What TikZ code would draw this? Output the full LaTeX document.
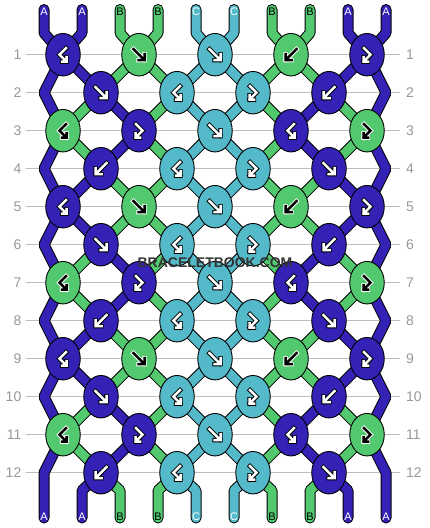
\documentclass[tikz,border=0pt]{standalone}
\usepackage{fontspec}
\setmainfont{Liberation Sans}
\usetikzlibrary{shapes.geometric}
\definecolor{cA}{HTML}{3421B5}
\definecolor{cB}{HTML}{52C96F}
\definecolor{cC}{HTML}{54B9C9}
\definecolor{gridc}{HTML}{BEBEBE}
\definecolor{labc}{HTML}{999999}
\definecolor{wmc}{HTML}{333333}
\pgfdeclarelayer{gridlayer}
\pgfdeclarelayer{strandout}
\pgfdeclarelayer{strandfill}
\pgfdeclarelayer{toplayer}
\pgfsetlayers{gridlayer,strandout,strandfill,main,toplayer}
\tikzset{
  knotnode/.style={ellipse,draw=black,line width=0.9pt,minimum width=34.5pt,minimum height=42.5pt,inner sep=0pt},
  sout/.style={draw=black,line width=11pt,line join=bevel},
  sfill/.style={line width=9pt,line join=bevel},
  lab/.style={text=labc,font=\fontsize{14}{14}\selectfont,inner sep=0pt},
  endlab/.style={font=\fontsize{11}{11}\selectfont,inner sep=0pt},
  wm/.style={font=\bfseries\fontsize{14}{14}\selectfont,inner sep=1pt},
  arw/.style={line cap=rect,line join=miter},
  pics/aF/.style args={#1/#2}{code={
    \draw[arw,line width=4.4pt,#2] (-5.5,-5.5)--(5,5) (5.5,-0.5)--(5.5,5.5)--(-0.5,5.5);
    \draw[arw,line width=2.5pt,#1] (-5.5,-5.5)--(5,5) (5.5,-0.5)--(5.5,5.5)--(-0.5,5.5);
  }},
  pics/aB/.style args={#1/#2}{code={
    \draw[arw,line width=4.4pt,#2] (5.5,-5.5)--(-5,5) (-5.5,-0.5)--(-5.5,5.5)--(0.5,5.5);
    \draw[arw,line width=2.5pt,#1] (5.5,-5.5)--(-5,5) (-5.5,-0.5)--(-5.5,5.5)--(0.5,5.5);
  }},
  pics/aBF/.style args={#1/#2}{code={
    \draw[arw,line width=4.4pt,#2] (3,-6.5)--(-3.5,0)--(3.2,6.7) (3.5,2.5)--(3.5,7)--(-1,7);
    \draw[arw,line width=2.5pt,#1] (3,-6.5)--(-3.5,0)--(3.2,6.7) (3.5,2.5)--(3.5,7)--(-1,7);
  }},
  pics/aFB/.style args={#1/#2}{code={
    \draw[arw,line width=4.4pt,#2] (-3,-6.5)--(3.5,0)--(-3.2,6.7) (-3.5,2.5)--(-3.5,7)--(1,7);
    \draw[arw,line width=2.5pt,#1] (-3,-6.5)--(3.5,0)--(-3.2,6.7) (-3.5,2.5)--(-3.5,7)--(1,7);
  }},
}
\newcommand\mkknot[5]{%
  \pgfmathsetmacro\kx{63+38*(#2-1)}%
  \pgfmathsetmacro\ky{54.7+38*(#1-1)}%
  \node[knotnode,fill=#3] (k#1-#2) at (\kx,\ky) {};%
  \edef\mkknottmp{\noexpand\pic at (k#1-#2) {#4=#5};}\mkknottmp}
\newcommand\segm[3]{%
  \begin{pgfonlayer}{strandout}\draw[sout] (#1.center) -- (#2.center);\end{pgfonlayer}%
  \begin{pgfonlayer}{strandfill}\draw[sfill,#3] (#1.center) -- (#2.center);\end{pgfonlayer}}
\begin{document}
\begin{tikzpicture}[x=1pt,y=-1pt]
\useasboundingbox (0,0) rectangle (430,528);
\begin{pgfonlayer}{gridlayer}
  \fill[white] (0,0) rectangle (430,528);
  \foreach \r in {1,...,12}{
    \pgfmathsetmacro\yy{54.7+38*(\r-1)}
    \draw[gridc,line width=1.3pt] (26,\yy) -- (400,\yy);
  }
\end{pgfonlayer}
% row labels
\foreach \r in {1,...,12}{
  \pgfmathsetmacro\yy{54.7+38*(\r-1)}
  \node[lab,anchor=east] (ll\r) at (21.5,\yy) {\r};
  \node[lab,anchor=west] (lr\r) at (406,\yy) {\r};
}
% knots
\foreach \r in {1,5,9}{
  \foreach \ii/\kc/\kt/\kf/\kb in {1/cA/aBF/white/black,3/cB/aF/black/white,5/cC/aF/white/black,7/cB/aB/black/white,9/cA/aFB/white/black}{
    \mkknot{\r}{\ii}{\kc}{\kt}{\kf/\kb}}}
\foreach \r in {2,6,10}{
  \foreach \ii/\kc/\kt/\kf/\kb in {2/cA/aF/white/black,4/cC/aBF/white/black,6/cC/aFB/white/black,8/cA/aB/white/black}{
    \mkknot{\r}{\ii}{\kc}{\kt}{\kf/\kb}}}
\foreach \r in {3,7,11}{
  \foreach \ii/\kc/\kt/\kf/\kb in {1/cB/aBF/black/white,3/cA/aFB/white/black,5/cC/aF/white/black,7/cA/aBF/white/black,9/cB/aFB/black/white}{
    \mkknot{\r}{\ii}{\kc}{\kt}{\kf/\kb}}}
\foreach \r in {4,8,12}{
  \foreach \ii/\kc/\kt/\kf/\kb in {2/cA/aB/white/black,4/cC/aBF/white/black,6/cC/aFB/white/black,8/cA/aF/white/black}{
    \mkknot{\r}{\ii}{\kc}{\kt}{\kf/\kb}}}
% connectors between knots
\foreach \r in {1,5,9}{\pgfmathtruncatemacro\rn{\r+1}
  \foreach \a/\b/\sc in {1/2/cA,3/2/cB,3/4/cB,5/4/cC,5/6/cC,7/6/cB,7/8/cB,9/8/cA}{\segm{k\r-\a}{k\rn-\b}{\sc}}}
\foreach \r in {2,6,10}{\pgfmathtruncatemacro\rn{\r+1}
  \foreach \a/\b/\sc in {2/1/cB,2/3/cA,4/3/cB,4/5/cC,6/5/cC,6/7/cB,8/7/cA,8/9/cB}{\segm{k\r-\a}{k\rn-\b}{\sc}}}
\foreach \r in {3,7,11}{\pgfmathtruncatemacro\rn{\r+1}
  \foreach \a/\b/\sc in {1/2/cB,3/2/cA,3/4/cB,5/4/cC,5/6/cC,7/6/cB,7/8/cA,9/8/cB}{\segm{k\r-\a}{k\rn-\b}{\sc}}}
\foreach \r in {4,8}{\pgfmathtruncatemacro\rn{\r+1}
  \foreach \a/\b/\sc in {2/1/cA,2/3/cB,4/3/cB,4/5/cC,6/5/cC,6/7/cB,8/7/cB,8/9/cA}{\segm{k\r-\a}{k\rn-\b}{\sc}}}
% edge strands
\foreach \r in {1,3,5,7,9}{
  \pgfmathtruncatemacro\rn{\r+1}\pgfmathtruncatemacro\rnn{\r+2}
  \pgfmathsetmacro\yy{54.7+38*\r}
  \coordinate (eL\rn) at (44,\yy);
  \coordinate (eR\rn) at (386,\yy);
  \begin{pgfonlayer}{strandout}
    \draw[sout] (k\r-1.center) -- (eL\rn) -- (k\rnn-1.center);
    \draw[sout] (k\r-9.center) -- (eR\rn) -- (k\rnn-9.center);
  \end{pgfonlayer}
  \begin{pgfonlayer}{strandfill}
    \draw[sfill,cA] (k\r-1.center) -- (eL\rn) -- (k\rnn-1.center);
    \draw[sfill,cA] (k\r-9.center) -- (eR\rn) -- (k\rnn-9.center);
  \end{pgfonlayer}
}
% strand ends
\foreach \s/\sc/\sl/\st in {1/cA/A/white,2/cA/A/white,3/cB/B/black,4/cB/B/black,5/cC/C/white,6/cC/C/white,7/cB/B/black,8/cB/B/black,9/cA/A/white,10/cA/A/white}{
  \pgfmathsetmacro\sx{44+38*(\s-1)}
  \pgfmathtruncatemacro\ki{\s-1+mod(\s,2)}
  \pgfmathtruncatemacro\kj{\s-mod(\s,2)}
  \coordinate (te\s) at (\sx,9.5);
  \coordinate (tb\s) at (\sx,33);
  \coordinate (be\s) at (\sx,518);
  \ifnum\s=1 \coordinate (bb\s) at (\sx,472.7); \coordinate (bk\s) at (k11-1.center);
  \else\ifnum\s=10 \coordinate (bb\s) at (\sx,472.7); \coordinate (bk\s) at (k11-9.center);
  \else \coordinate (bb\s) at (\sx,490.5); \coordinate (bk\s) at (k12-\kj.center);
  \fi\fi
  \begin{pgfonlayer}{strandout}
    \draw[sout,line cap=round] (te\s) -- (tb\s) -- (k1-\ki.center);
    \draw[sout,line cap=round] (be\s) -- (bb\s) -- (bk\s);
  \end{pgfonlayer}
  \begin{pgfonlayer}{strandfill}
    \draw[sfill,line cap=round,\sc] (te\s) -- (tb\s) -- (k1-\ki.center);
    \draw[sfill,line cap=round,\sc] (be\s) -- (bb\s) -- (bk\s);
  \end{pgfonlayer}
  \node[endlab,text=\st] (tl\s) at (\sx,12) {\sl};
  \node[endlab,text=\st] (bl\s) at (\sx,516.5) {\sl};
}
% watermark
\begin{pgfonlayer}{toplayer}
  \node[wm,text=wmc] (wm) at (215,263) {BRACELETBOOK.COM};
\end{pgfonlayer}
\end{tikzpicture}
\end{document}
